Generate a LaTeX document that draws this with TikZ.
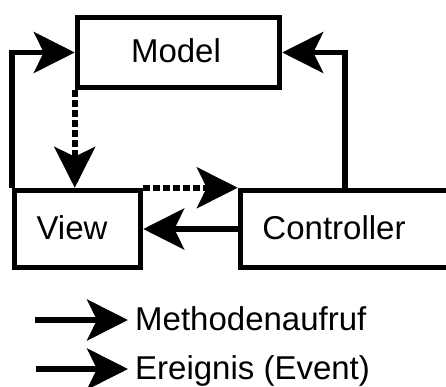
\documentclass[tikz,border=0pt]{standalone}
\usepackage{fontspec}
\setmainfont{Liberation Sans}
\usetikzlibrary{arrows.meta}
\begin{document}
\begin{tikzpicture}[x=1pt,y=-1pt,
  box/.style={draw,line width=5.5pt,inner sep=0pt,minimum width=#1},
  lbl/.style={inner sep=0pt,text height=20pt,text depth=0pt,font=\fontsize{33}{40}\selectfont},
  arr/.style={line width=5.5pt,-{Stealth[length=41pt,width=41pt,inset=10pt]}},
  darr/.style={arr,dash pattern=on 6.5pt off 3.5pt}]
\useasboundingbox (0,0) rectangle (446,387);
\clip (0,0) rectangle (446,387);
% boxes
\node[box=202pt,minimum height=70pt] (model) at (178.5,52.5) {};
\node[box=126pt,minimum height=77pt] (view) at (77.5,229) {};
\node[box=220pt,minimum height=77pt] (ctrl) at (350.5,229) {};
% labels
\node[lbl] (modelT) at (176,52.5) {Model};
\node[lbl] (viewT) at (72,229) {View};
\node[lbl] (ctrlT) at (334,229) {Controller};
% connectors
\coordinate (cr) at (345,190.5);
\draw[arr] (view.north west) |- (model.west);
\draw[arr] (cr) |- (model.east);
\draw[darr] (model.south west) -- (model.south west |- view.north);
\draw[darr] (view.north east) -- (ctrl.north west);
\draw[arr] (ctrl.west) -- (view.east);
% legend
\node[lbl,anchor=west] (leg1) at (135,320) {Methodenaufruf};
\node[lbl,anchor=west] (leg2) at (135,369) {Ereignis (Event)};
\coordinate (l1) at (35,320);
\coordinate (l2) at (36,369);
\draw[arr,shorten >=7pt] (l1) -- (leg1.west);
\draw[arr,shorten >=7pt] (l2) -- (leg2.west);
\end{tikzpicture}
\end{document}
